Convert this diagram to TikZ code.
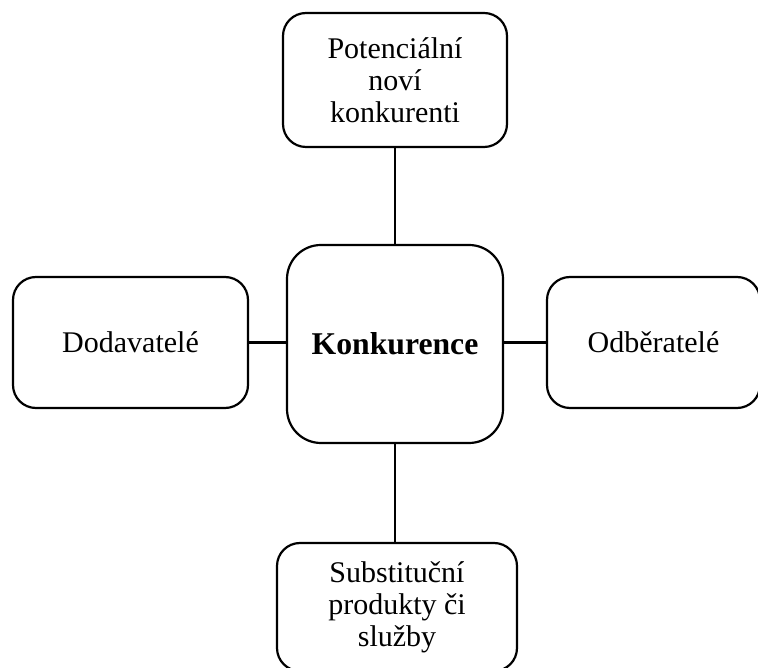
\documentclass[tikz,border=0pt]{standalone}
\usepackage{fontspec}
\setmainfont{Liberation Serif}
\begin{document}
\begin{tikzpicture}[x=1pt,y=1pt,
  box/.style={draw=black, line width=2.2pt, fill=white, align=center,
    inner sep=0pt, font=\fontsize{30}{32}\selectfont},
  link/.style={draw=black, line width=2.2pt}]
\useasboundingbox (0,0) rectangle (758,667);
% central force
\node[box, rounded corners=34pt, minimum width=216pt, minimum height=198pt,
  font=\fontsize{31.7}{34}\selectfont\bfseries]
  (core) at (395,323) {Konkurence};
% surrounding forces
\node[box, rounded corners=23pt, minimum width=224pt, minimum height=134pt]
  (entrants) at (395,587) {Potenciální\\noví\\konkurenti};
\node[box, rounded corners=23pt, minimum width=235pt, minimum height=131pt]
  (suppliers) at (130.5,324.5) {Dodavatelé};
\node[box, rounded corners=23pt, minimum width=213pt, minimum height=131pt]
  (buyers) at (653.5,324.5) {Odběratelé};
\node[box, rounded corners=23pt, minimum width=240pt, minimum height=128pt]
  (substitutes) at (397,60) {Substituční\\produkty či\\služby};
% connectors
\draw[link] (entrants.south) -- (core.north);
\draw[link] (core.south) -- (core.south |- substitutes.north);
\draw[link] (suppliers.east) -- (suppliers.east -| core.west);
\draw[link] (core.east |- buyers.west) -- (buyers.west);
\end{tikzpicture}
\end{document}
